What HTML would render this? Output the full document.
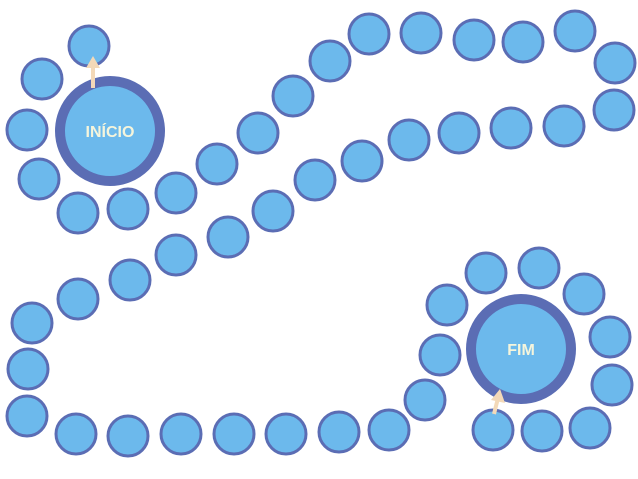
<!DOCTYPE html>
<html><head><meta charset="utf-8"><style>
html,body{margin:0;padding:0;background:#fff;}
svg{display:block;}
</style></head><body>
<svg width="638" height="479" viewBox="0 0 638 479">
<g id="spaces"></g>
<g>
<circle cx="110" cy="131" r="50" fill="#6cb9ec" stroke="#5b6db4" stroke-width="10"/>
<text x="110" y="137" text-anchor="middle" font-family="Liberation Sans, sans-serif" font-weight="bold" font-size="16" fill="#f5f5dc">INÍCIO</text>
</g>
<g>
<circle cx="521" cy="349" r="50" fill="#6cb9ec" stroke="#5b6db4" stroke-width="10"/>
<text x="521" y="355" text-anchor="middle" font-family="Liberation Sans, sans-serif" font-weight="bold" font-size="16" fill="#f5f5dc">FIM</text>
</g>
<g>
<line x1="93" y1="88" x2="93" y2="66" stroke="#f3d9b8" stroke-width="4"/>
<polygon points="86,68 93,56 100,68" fill="#f3d9b8"/>
</g>
<g>
<line x1="494" y1="414" x2="498" y2="398" stroke="#f3d9b8" stroke-width="4"/>
<polygon points="491,400 500,389 505,403" fill="#f3d9b8"/>
</g>
</svg>
<script>
const cxs=[89,42,27,39,78,128,176,217,258,293,330,369,421,474,523,575,615,614,564,511,459,409,362,315,273,228,176,130,78,32,28,27,76,128,181,234,286,339,389,425,440,447,486,539,584,610,612,590,542,493];
const cys=[46,79,130,179,213,209,193,164,133,96,61,34,33,40,42,31,63,110,126,128,133,140,161,180,211,237,255,280,299,323,369,416,434,436,434,434,434,432,430,400,355,305,273,268,294,337,385,428,431,430];
const g=document.getElementById('spaces');
for(let i=0;i<cxs.length;i++){
 const c=document.createElementNS('http://www.w3.org/2000/svg','circle');
 c.setAttribute('cx',cxs[i]);c.setAttribute('cy',cys[i]);c.setAttribute('r',20);
 c.setAttribute('fill','#6cb9ec');c.setAttribute('stroke','#5b6db4');c.setAttribute('stroke-width','3');
 
 
 g.appendChild(c);
}
</script>
</body></html>
